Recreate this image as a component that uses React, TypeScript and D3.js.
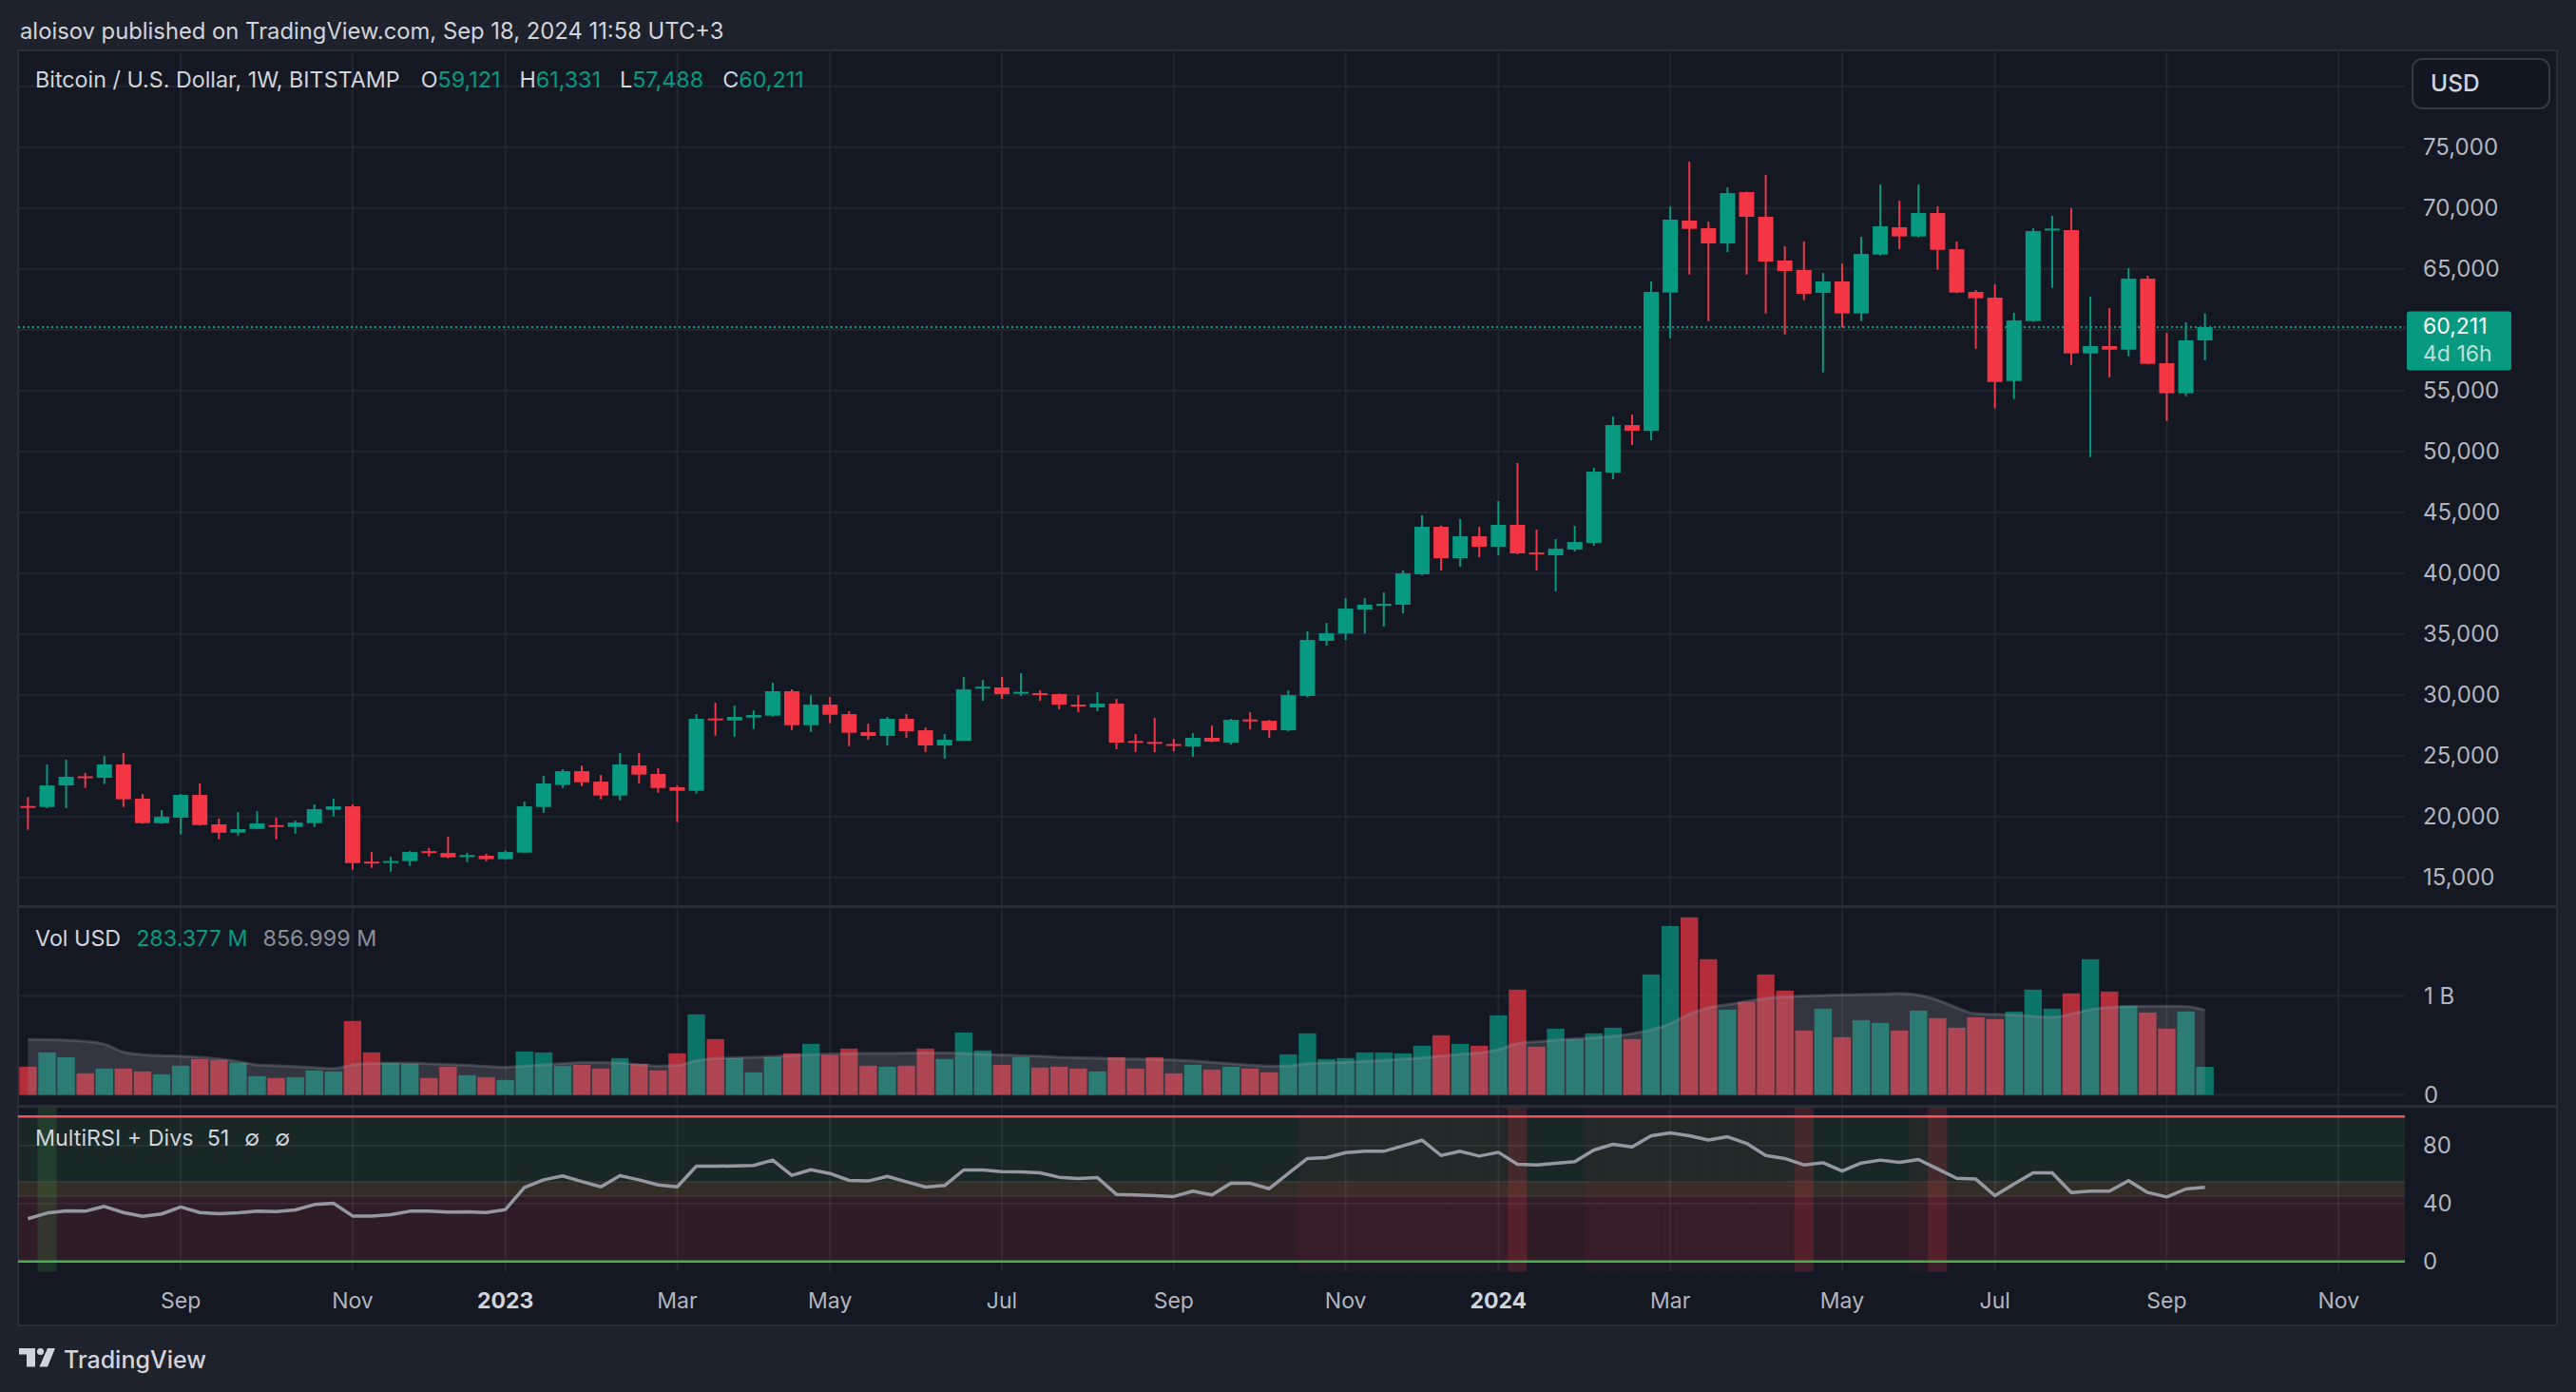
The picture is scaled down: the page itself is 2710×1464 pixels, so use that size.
import { useEffect } from 'react';
import * as d3 from 'd3';

const W = 2710;
const H = 1464;

// weekly bars, first bar = week of Jul 11 2022
const firstWeekUTC = Date.UTC(2022, 6, 11);

const opens = [
  20860, 20780, 22550, 23300, 23180, 24270, 21460, 19450, 19900, 21770,
  19350, 18670, 18980, 19290, 19140, 19450, 20550, 20830, 16290, 16260,
  16330, 17150, 17000, 16760, 16770, 16490, 17030, 20780, 22580, 23720,
  22860, 21720, 24190, 23490, 22400, 22110, 28050, 27890, 28130, 28280,
  30290, 27500, 29190, 28410, 26930, 26620, 28020, 27080, 25830, 26220,
  30590, 30600, 30180, 30130, 30050, 29190, 28960, 29270, 26200, 26120,
  25950, 25760, 26460, 26070, 27970, 27860, 27080, 29900, 34430, 35030,
  37000, 37400, 37400, 39900, 43800, 41220, 43020, 42160, 43960, 41690,
  41460, 41930, 42470, 48250, 52160, 51690, 63050, 68960, 68330, 67080,
  71300, 69270, 65680, 64900, 63020, 63960, 61330, 66170, 68410, 67660,
  69580, 66610, 63100, 62630, 55780, 60700, 68200, 68180, 58050, 58650,
  58360, 64190, 57240, 54770, 59121,
];
const highs = [
  21590, 24270, 24660, 23570, 24970, 25210, 21850, 20520, 21850, 22710,
  19820, 20360, 20440, 19900, 19660, 20990, 21460, 20990, 17080, 16690,
  17160, 17400, 18330, 17000, 16930, 17180, 21220, 23330, 23880, 24190,
  23410, 25210, 25210, 23960, 22550, 28410, 29350, 29110, 28720, 30990,
  30440, 29970, 29820, 28650, 27630, 28180, 28410, 27320, 26770, 31460,
  31220, 31460, 31770, 30360, 30100, 29970, 30210, 29660, 26770, 28100,
  26380, 26850, 27470, 28020, 28570, 27940, 30360, 35210, 35910, 37940,
  37940, 38410, 40210, 44740, 43900, 44430, 43800, 45910, 49040, 43570,
  42790, 43880, 48650, 52860, 53020, 63960, 70130, 73800, 68880, 71690,
  71350, 72710, 66850, 67240, 64660, 65440, 67630, 71930, 70600, 71930,
  70130, 67240, 63260, 63720, 61380, 68330, 69350, 69970, 62710, 61770,
  65050, 64430, 59740, 60600, 61331,
];
const lows = [
  18910, 20680, 20680, 22340, 22660, 20780, 19400, 19400, 18520, 19250,
  18130, 18440, 18950, 18130, 18590, 19140, 20000, 15630, 15780, 15470,
  15940, 16720, 16560, 16250, 16330, 16440, 17000, 20310, 22340, 22500,
  21410, 21330, 22730, 21950, 19530, 21880, 26640, 26560, 27190, 28200,
  27110, 26950, 27660, 25780, 26300, 25830, 26460, 25290, 24740, 26200,
  29510, 29660, 29900, 29500, 28800, 28570, 28650, 25520, 25290, 25290,
  25360, 24900, 26100, 25910, 27160, 26460, 27000, 29800, 34040, 34500,
  35030, 35600, 36690, 39800, 40210, 40520, 41300, 41460, 41540, 40210,
  38490, 41770, 42240, 47710, 50520, 50910, 59300, 64530, 60700, 66380,
  64530, 61330, 59610, 62420, 56490, 60160, 60700, 66090, 66610, 67580,
  64920, 63000, 58440, 53520, 54300, 60650, 63440, 57110, 49530, 56090,
  57810, 57150, 52500, 54530, 57488,
];
const closes = [
  20780, 22550, 23260, 23180, 24270, 21410, 19450, 19970, 21770, 19300,
  18670, 18960, 19430, 19200, 19500, 20600, 20830, 16170, 16210, 16340,
  17080, 17080, 16640, 16830, 16490, 17080, 20830, 22710, 23720, 22810,
  21720, 24270, 23440, 22340, 22110, 28020, 27990, 28180, 28330, 30290,
  27500, 29190, 28360, 26880, 26620, 28020, 27010, 25830, 26300, 30440,
  30660, 30050, 30240, 30080, 29190, 29100, 29270, 26070, 26140, 26060,
  25880, 26460, 26150, 27940, 27910, 27080, 29970, 34500, 35050, 37080,
  37400, 37470, 39970, 43800, 41220, 43020, 42160, 43960, 41620, 41540,
  42000, 42550, 48330, 52160, 51690, 63100, 69040, 68280, 67080, 71220,
  69270, 65600, 64820, 62940, 63960, 61330, 66220, 68490, 67660, 69580,
  66560, 63050, 62580, 55700, 60760, 68100, 68300, 58050, 58650, 58360,
  64190, 57190, 54770, 59120, 60211,
];

// volume, millions USD
const volumes = [
  285, 429, 381, 218, 266, 266, 237, 208, 295, 362,
  353, 324, 189, 170, 179, 247, 237, 747, 429, 324,
  314, 170, 285, 199, 179, 151, 439, 429, 295, 304,
  266, 372, 314, 247, 420, 814, 564, 372, 228, 381,
  420, 516, 401, 468, 295, 285, 295, 468, 362, 631,
  449, 304, 381, 276, 285, 266, 237, 381, 266, 381,
  218, 304, 256, 285, 266, 228, 410, 622, 362, 372,
  429, 429, 420, 497, 603, 516, 497, 804, 1064, 487,
  670, 564, 622, 679, 564, 1218, 1708, 1795, 1372, 862,
  939, 1218, 1054, 651, 872, 583, 756, 728, 651, 853,
  776, 679, 785, 766, 843, 1064, 872, 1026, 1372, 1045,
  901, 833, 670, 843, 283.377,
];
const volumeMA = [
  561, 558, 554, 542, 513, 433, 407, 397, 391, 381,
  362, 337, 304, 295, 285, 276, 266, 304, 317, 321,
  321, 314, 308, 301, 288, 279, 292, 304, 317, 327,
  327, 321, 304, 292, 298, 346, 369, 375, 381, 388,
  397, 407, 413, 417, 420, 420, 423, 426, 426, 420,
  410, 404, 397, 391, 381, 375, 372, 365, 362, 359,
  353, 343, 330, 314, 301, 292, 292, 317, 324, 330,
  340, 349, 362, 375, 394, 410, 426, 458, 519, 538,
  554, 567, 577, 593, 619, 657, 721, 817, 881, 913,
  946, 974, 990, 1000, 1006, 1013, 1016, 1019, 1026, 1010,
  958, 881, 821, 814, 808, 795, 785, 817, 862, 885,
  894, 897, 897, 894, 857,
];

const rsiValues = [
  29.5, 33.4, 34.9, 34.7, 38.0, 33.8, 31.2, 32.8, 37.6, 33.8,
  33.0, 33.6, 34.7, 34.5, 35.6, 39.3, 40.2, 31.4, 31.4, 32.3,
  34.7, 34.7, 34.1, 34.3, 33.8, 35.8, 51.1, 56.3, 59.0, 55.2,
  51.5, 59.2, 56.3, 52.8, 51.5, 65.7, 65.7, 65.9, 66.2, 69.9,
  59.4, 63.3, 60.7, 55.9, 55.5, 58.7, 55.0, 51.3, 52.4, 63.1,
  63.1, 62.0, 61.8, 61.1, 58.1, 57.2, 57.9, 46.3, 45.9, 45.4,
  44.8, 48.5, 45.9, 54.1, 53.9, 50.2, 60.7, 71.0, 71.6, 75.1,
  76.0, 76.0, 79.7, 83.6, 73.1, 76.0, 72.7, 75.3, 67.0, 66.6,
  67.7, 68.8, 76.9, 80.8, 79.0, 86.7, 88.6, 86.7, 83.8, 86.0,
  81.4, 73.1, 71.0, 66.6, 68.1, 62.4, 67.9, 69.9, 68.3, 70.3,
  63.8, 57.4, 56.8, 45.4, 53.5, 61.1, 61.1, 47.6, 48.5, 48.5,
  55.7, 47.6, 44.5, 50.0, 51.1,
];
const rsiBullBars = [1];
const rsiHotBars = [67, 68, 69, 70, 71, 72, 73, 74, 75, 76, 77, 82, 83, 84, 85, 86, 87, 88, 89, 90, 91, 92, 99];
const rsiBearBars = [78, 93, 100];

// 60,000 is hidden behind the last-price tag, as in the original
const priceTicks = [15000, 20000, 25000, 30000, 35000, 40000, 45000, 50000, 55000, 65000, 70000, 75000];
const priceGrid = [15000, 20000, 25000, 30000, 35000, 40000, 45000, 50000, 55000, 60000, 65000, 70000, 75000, 80000];
const timeTicks = [
  { label: 'Sep', y: 2022, m: 8 },
  { label: 'Nov', y: 2022, m: 10 },
  { label: '2023', y: 2023, m: 0 },
  { label: 'Mar', y: 2023, m: 2 },
  { label: 'May', y: 2023, m: 4 },
  { label: 'Jul', y: 2023, m: 6 },
  { label: 'Sep', y: 2023, m: 8 },
  { label: 'Nov', y: 2023, m: 10 },
  { label: '2024', y: 2024, m: 0 },
  { label: 'Mar', y: 2024, m: 2 },
  { label: 'May', y: 2024, m: 4 },
  { label: 'Jul', y: 2024, m: 6 },
  { label: 'Sep', y: 2024, m: 8 },
  { label: 'Nov', y: 2024, m: 10 },
];

const UP = '#089981';
const DOWN = '#f23645';
const FONT = "Inter, 'Noto Sans', sans-serif";

// layout
const frame = { x0: 19, y0: 53, x1: 2690, y1: 1394 };
const plotRight = 2530;
const mainBottom = 953.5;
const volBottom = 1163.5;
const rsiBottom = 1337.5;

export default function App() {
  useEffect(() => {
    document.body.style.margin = '0';
    document.body.style.background = '#1e222d';
  }, []);

  const n = closes.length;
  const x = d3.scaleLinear().domain([0, 114]).range([29.4, 29.4 + 114 * 20.09]);
  const yPrice = d3.scaleLinear().domain([15000, 75000]).range([922.7, 154.7]);
  const yVol = d3.scaleLinear().domain([0, 1000]).range([1151.5, 1047.5]);
  const yRsi = d3.scaleLinear().domain([0, 100]).range([1326.8, 1174.2]);

  const week = 7 * 864e5;
  const ticks = timeTicks.map(t => ({
    ...t,
    idx: Math.ceil((Date.UTC(t.y, t.m, 1) - firstWeekUTC) / week),
  }));

  const idx = d3.range(n);
  const maArea = d3.area<number>()
    .x(i => x(i))
    .y0(yVol(0))
    .y1(i => yVol(volumeMA[i]))
    .curve(d3.curveMonotoneX);
  const maLine = d3.line<number>()
    .x(i => x(i))
    .y(i => yVol(volumeMA[i]))
    .curve(d3.curveMonotoneX);
  const rsiLine = d3.line<number>()
    .x(i => x(i))
    .y(i => yRsi(rsiValues[i]));

  const bodyW = 16;
  const volW = 18.4;
  const barW = 20.09;
  const last = closes[n - 1];
  const fmt = d3.format(',');

  return (
    <svg width={W} height={H} viewBox={`0 0 ${W} ${H}`} style={{ display: 'block' }} fontFamily={FONT}>
      <rect x={0} y={0} width={W} height={H} fill="#1e222d" />
      <text x={21} y={40.5} fontSize={23.8} fill="#d1d4dc">
        aloisov published on TradingView.com, Sep 18, 2024 11:58 UTC+3
      </text>

      {/* chart frame */}
      <rect x={frame.x0} y={frame.y0} width={frame.x1 - frame.x0} height={frame.y1 - frame.y0}
        fill="#141823" stroke="#2a2e39" strokeWidth={2} />

      {/* vertical grid */}
      {ticks.map(t => (
        <line key={'vg' + t.idx} x1={x(t.idx)} x2={x(t.idx)} y1={frame.y0} y2={rsiBottom}
          stroke="#222631" strokeWidth={2} />
      ))}
      {/* price grid */}
      {priceGrid.map(p => (
        <line key={'pg' + p} x1={frame.x0} x2={plotRight} y1={yPrice(p)} y2={yPrice(p)}
          stroke="#222631" strokeWidth={2} />
      ))}
      {/* volume grid */}
      {[0, 1000].map(v => (
        <line key={'vgr' + v} x1={frame.x0} x2={plotRight} y1={yVol(v)} y2={yVol(v)}
          stroke="#222631" strokeWidth={2} />
      ))}

      {/* pane separators */}
      <line x1={frame.x0} x2={frame.x1} y1={mainBottom} y2={mainBottom} stroke="#2a2e39" strokeWidth={3} />
      <line x1={frame.x0} x2={frame.x1} y1={volBottom} y2={volBottom} stroke="#2a2e39" strokeWidth={3} />

      {/* current price line */}
      <line x1={frame.x0} x2={plotRight} y1={yPrice(last)} y2={yPrice(last)}
        stroke={UP} strokeWidth={2} strokeDasharray="2 3" />

      {/* candles */}
      {idx.map(i => {
        const o = opens[i], c = closes[i];
        const col = c >= o ? UP : DOWN;
        const top = yPrice(Math.max(o, c));
        const h = Math.max(2, yPrice(Math.min(o, c)) - top);
        return (
          <g key={'c' + i}>
            <line x1={x(i)} x2={x(i)} y1={yPrice(highs[i])} y2={yPrice(lows[i])} stroke={col} strokeWidth={2} />
            <rect x={x(i) - bodyW / 2} y={top} width={bodyW} height={h} fill={col} />
          </g>
        );
      })}

      {/* volume bars */}
      {idx.map(i => {
        const col = closes[i] >= opens[i] ? UP : DOWN;
        return (
          <rect key={'v' + i} x={x(i) - volW / 2} y={yVol(volumes[i])} width={volW}
            height={yVol(0) - yVol(volumes[i])} fill={col} fillOpacity={0.72} />
        );
      })}
      <path d={maArea(idx) ?? ''} fill="rgb(150,150,160)" fillOpacity={0.24} />
      <path d={maLine(idx) ?? ''} fill="none" stroke="rgb(150,150,160)" strokeOpacity={0.3} strokeWidth={3} />

      {/* RSI zones */}
      <rect x={frame.x0} width={plotRight - frame.x0} y={yRsi(100)} height={yRsi(55) - yRsi(100)}
        fill="rgb(76,175,80)" fillOpacity={0.1} />
      <rect x={frame.x0} width={plotRight - frame.x0} y={yRsi(55)} height={yRsi(45) - yRsi(55)}
        fill="rgb(255,200,59)" fillOpacity={0.13} />
      <rect x={frame.x0} width={plotRight - frame.x0} y={yRsi(45)} height={yRsi(0) - yRsi(45)}
        fill="rgb(242,54,69)" fillOpacity={0.12} />
      {[80, 40, 55, 45].map(v => (
        <line key={'rg' + v} x1={frame.x0} x2={plotRight} y1={yRsi(v)} y2={yRsi(v)}
          stroke="rgb(150,150,160)" strokeOpacity={0.13} strokeWidth={2} />
      ))}
      {rsiHotBars.map(i => (
        <rect key={'rh' + i} x={x(i) - barW / 2} width={barW} y={volBottom + 1.5} height={rsiBottom - volBottom - 1.5}
          fill="rgb(242,54,69)" fillOpacity={0.05} />
      ))}
      {rsiBearBars.map(i => (
        <rect key={'rb' + i} x={x(i) - barW / 2} width={barW} y={volBottom + 1.5} height={rsiBottom - volBottom - 1.5}
          fill="rgb(242,54,69)" fillOpacity={0.2} />
      ))}
      {rsiBullBars.map(i => (
        <rect key={'rgb' + i} x={x(i) - barW / 2} width={barW} y={volBottom + 1.5} height={rsiBottom - volBottom - 1.5}
          fill="rgb(76,175,80)" fillOpacity={0.18} />
      ))}
      <line x1={frame.x0} x2={plotRight} y1={yRsi(100)} y2={yRsi(100)} stroke="#f7525f" strokeWidth={2.5} />
      <line x1={frame.x0} x2={plotRight} y1={yRsi(0)} y2={yRsi(0)} stroke="#4caf50" strokeWidth={2.5} />
      <path d={rsiLine(idx) ?? ''} fill="none" stroke="#9598a1" strokeWidth={3.5} strokeLinejoin="round" />

      {/* legends */}
      <text x={37} y={92} fontSize={23.3} fill="#d1d4dc">
        <tspan>Bitcoin / U.S. Dollar, 1W, BITSTAMP</tspan>
        <tspan dx={22}>O</tspan><tspan fill={UP}>{fmt(opens[n - 1])}</tspan>
        <tspan dx={20}>H</tspan><tspan fill={UP}>{fmt(highs[n - 1])}</tspan>
        <tspan dx={20}>L</tspan><tspan fill={UP}>{fmt(lows[n - 1])}</tspan>
        <tspan dx={20}>C</tspan><tspan fill={UP}>{fmt(closes[n - 1])}</tspan>
      </text>
      <text x={37} y={995} fontSize={23.3} fill="#d1d4dc">
        <tspan>Vol USD</tspan>
        <tspan dx={16} fill={UP}>283.377 M</tspan>
        <tspan dx={16} fill="#8b8e98">856.999 M</tspan>
      </text>
      <text x={37} y={1205} fontSize={23.3} fill="#d1d4dc">
        <tspan>MultiRSI + Divs</tspan>
        <tspan dx={14}>51</tspan>
        <tspan dx={16}>∅</tspan>
        <tspan dx={16}>∅</tspan>
      </text>

      {/* price axis */}
      {priceTicks.map(p => (
        <text key={'pl' + p} x={2549} y={yPrice(p) + 8.5} fontSize={24} fill="#b2b5be">
          {fmt(p)}
        </text>
      ))}
      <text x={2550} y={yVol(1000) + 8.5} fontSize={24} fill="#b2b5be">1 B</text>
      <text x={2550} y={yVol(0) + 8.5} fontSize={24} fill="#b2b5be">0</text>
      {[80, 40, 0].map(v => (
        <text key={'rl' + v} x={2549} y={yRsi(v) + 8.5} fontSize={24} fill="#b2b5be">{v}</text>
      ))}

      <rect x={2538} y={62} width={144} height={52} rx={10} fill="#131722" stroke="#363a45" strokeWidth={2} />
      <text x={2557} y={96} fontSize={24.5} fill="#d1d4dc" fontWeight={500}>USD</text>

      {/* last price tag: price and time-to-close in one text block */}
      <rect x={2532} y={yPrice(last) - 16.5} width={110} height={62} rx={3} fill={UP} />
      <text x={2549} y={yPrice(last) + 7} fontSize={23} fill="#ffffff">
        <tspan>{fmt(last)}</tspan>
        <tspan x={2549} dy={29} fillOpacity={0.72}>4d 16h</tspan>
      </text>

      {/* time axis */}
      {ticks.map(t => (
        <text key={'tl' + t.idx} x={x(t.idx)} y={1375.5} textAnchor="middle" fontSize={23}
          fill={t.m === 0 ? '#d1d4dc' : '#b2b5be'} fontWeight={t.m === 0 ? 700 : 400}>
          {t.label}
        </text>
      ))}

      {/* footer logo */}
      <g fill="#d1d4dc">
        <rect x={20} y={1418} width={17} height={6.5} />
        <rect x={28} y={1418} width={9} height={19.5} />
        <circle cx={42.5} cy={1421.5} r={3.6} />
        <polygon points="50,1418 58,1418 50,1437.5 41.5,1437.5" />
      </g>
      <text x={67} y={1438.5} fontSize={25} fill="#d1d4dc" fontWeight={500}>TradingView</text>
    </svg>
  );
}
